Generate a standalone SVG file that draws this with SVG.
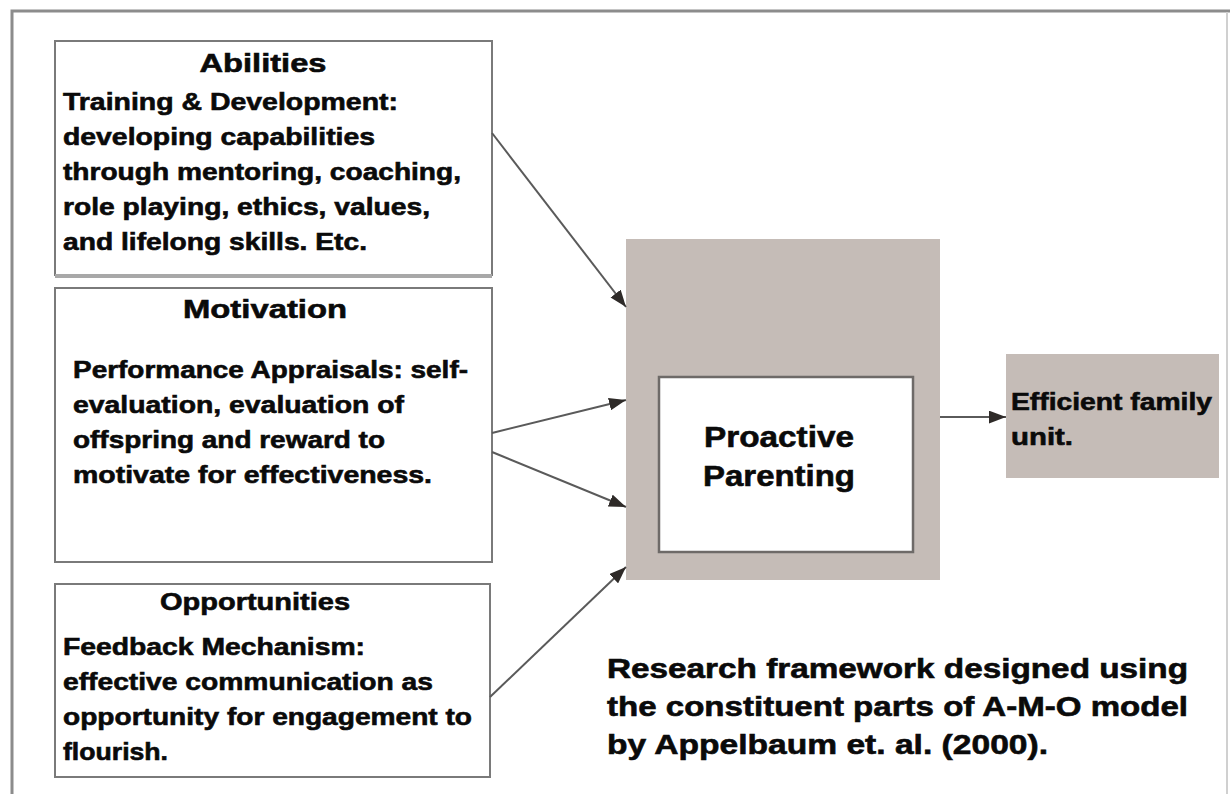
<svg xmlns="http://www.w3.org/2000/svg" width="1230" height="794" viewBox="0 0 1230 794">
  <style>
    .frame { fill: none; stroke: #8c8c8c; stroke-width: 3; }
    .edge { fill: none; stroke: #d0d0d0; stroke-width: 2; }
    .box { fill: #ffffff; stroke: #7a7a7a; stroke-width: 2; }
    .shade { fill: #c5bcb7; }
    .inner { fill: #ffffff; stroke: #6e6a68; stroke-width: 2.5; }
    .t { font-family: "Liberation Sans", Arial, sans-serif; font-weight: bold; fill: #0a0a0a; stroke: #0a0a0a; stroke-width: 0.6; }
    .title { font-size: 26px; }
    .body { font-size: 24px; }
    .big { font-size: 30px; }
    .cap { font-size: 28px; }
    .link { fill: none; stroke: #5a5a5a; stroke-width: 2; marker-end: url(#head); }
  </style>
  <defs>
    <marker id="head" viewBox="0 0 16 12" refX="16" refY="6" markerWidth="17" markerHeight="13" markerUnits="userSpaceOnUse" orient="auto">
      <path d="M0,0 L16,6 L0,12 z" fill="#2e2a28"/>
    </marker>
  </defs>
  <rect width="1230" height="794" fill="#ffffff"/>

  <!-- outer border, open at the bottom edge -->
  <path class="frame" d="M12,800 L12,11 L1230,11"/>
  <line class="edge" x1="1227" y1="12" x2="1227" y2="800"/>

  <g id="abilities">
    <rect class="box" x="55" y="41" width="437" height="234"/>
    <line x1="55" y1="276" x2="492" y2="276" stroke="#a8a8a8" stroke-width="4"/>
    <text class="t title" x="263" y="72" text-anchor="middle" textLength="127" lengthAdjust="spacingAndGlyphs">Abilities</text>
    <text class="t body" x="63" y="110" textLength="335" lengthAdjust="spacingAndGlyphs">Training &amp; Development:</text>
    <text class="t body" x="63" y="145" textLength="312" lengthAdjust="spacingAndGlyphs">developing capabilities</text>
    <text class="t body" x="63" y="180" textLength="398" lengthAdjust="spacingAndGlyphs">through mentoring, coaching,</text>
    <text class="t body" x="63" y="215" textLength="367" lengthAdjust="spacingAndGlyphs">role playing, ethics, values,</text>
    <text class="t body" x="63" y="250" textLength="304" lengthAdjust="spacingAndGlyphs">and lifelong skills. Etc.</text>
  </g>

  <g id="motivation">
    <rect class="box" x="55" y="288" width="437" height="274"/>
    <text class="t title" x="265" y="318" text-anchor="middle" textLength="164" lengthAdjust="spacingAndGlyphs">Motivation</text>
    <text class="t body" x="73" y="378" textLength="395" lengthAdjust="spacingAndGlyphs">Performance Appraisals: self-</text>
    <text class="t body" x="73" y="413" textLength="331" lengthAdjust="spacingAndGlyphs">evaluation, evaluation of</text>
    <text class="t body" x="73" y="448" textLength="312" lengthAdjust="spacingAndGlyphs">offspring and reward to</text>
    <text class="t body" x="73" y="483" textLength="359" lengthAdjust="spacingAndGlyphs">motivate for effectiveness.</text>
  </g>

  <g id="opportunities">
    <rect class="box" x="55" y="584" width="435" height="193"/>
    <text class="t body" x="255" y="610" text-anchor="middle" textLength="190" lengthAdjust="spacingAndGlyphs">Opportunities</text>
    <text class="t body" x="63" y="655" textLength="302" lengthAdjust="spacingAndGlyphs">Feedback Mechanism:</text>
    <text class="t body" x="63" y="690" textLength="370" lengthAdjust="spacingAndGlyphs">effective communication as</text>
    <text class="t body" x="63" y="725" textLength="409" lengthAdjust="spacingAndGlyphs">opportunity for engagement to</text>
    <text class="t body" x="63" y="760" textLength="105" lengthAdjust="spacingAndGlyphs">flourish.</text>
  </g>

  <g id="proactive-parenting">
    <rect class="shade" x="626" y="239" width="314" height="341"/>
    <rect class="inner" x="659" y="377" width="254" height="175"/>
    <text class="t big" x="779" y="447" text-anchor="middle" textLength="150" lengthAdjust="spacingAndGlyphs">Proactive</text>
    <text class="t big" x="779" y="486" text-anchor="middle" textLength="152" lengthAdjust="spacingAndGlyphs">Parenting</text>
  </g>

  <g id="efficient-family">
    <rect class="shade" x="1006" y="354" width="213" height="124"/>
    <text class="t body" x="1011" y="410" textLength="201" lengthAdjust="spacingAndGlyphs">Efficient family</text>
    <text class="t body" x="1011" y="445" textLength="62" lengthAdjust="spacingAndGlyphs">unit.</text>
  </g>

  <g id="caption">
    <text class="t cap" x="607" y="678" textLength="581" lengthAdjust="spacingAndGlyphs">Research framework designed using</text>
    <text class="t cap" x="607" y="716" textLength="581" lengthAdjust="spacingAndGlyphs">the constituent parts of A-M-O model</text>
    <text class="t cap" x="607" y="754" textLength="441" lengthAdjust="spacingAndGlyphs">by Appelbaum et. al. (2000).</text>
  </g>

  <g id="connectors">
    <line class="link" x1="492" y1="133" x2="626" y2="307"/>
    <line class="link" x1="492" y1="433" x2="626" y2="400"/>
    <line class="link" x1="492" y1="452" x2="626" y2="507"/>
    <line class="link" x1="490" y1="697" x2="626" y2="567"/>
    <line class="link" x1="940" y1="417" x2="1006" y2="417"/>
  </g>
</svg>
